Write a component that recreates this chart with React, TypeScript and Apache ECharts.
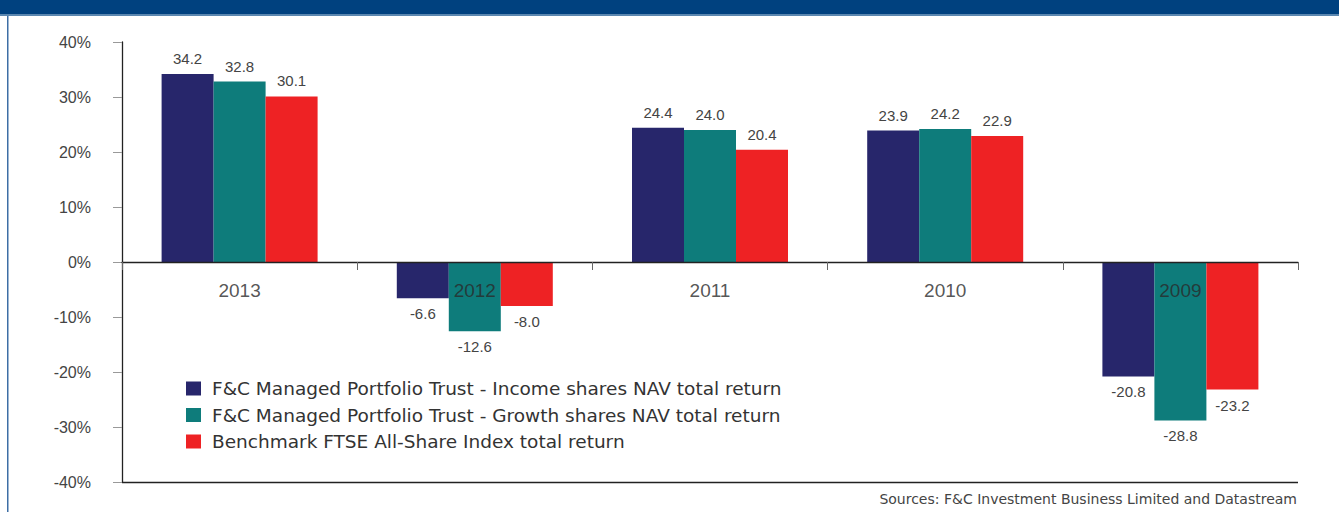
import React, { useEffect, useRef } from "react";
import * as echarts from "echarts";

const categories = ["2013", "2012", "2011", "2010", "2009"];
const incomeNav = [34.2, -6.6, 24.4, 23.9, -20.8];
const growthNav = [32.8, -12.6, 24.0, 24.2, -28.8];
const benchmark = [30.1, -8.0, 20.4, 22.9, -23.2];
const seriesNames = [
  "F&C Managed Portfolio Trust - Income shares NAV total return",
  "F&C Managed Portfolio Trust - Growth shares NAV total return",
  "Benchmark FTSE All-Share Index total return",
];
const seriesColors = ["#27266B", "#0E7C7B", "#EE2224"];
const yTicks = { min: -40, max: 40, interval: 10 };
const sourceText = "Sources: F&C Investment Business Limited and Datastream";

const FONT = "'Liberation Sans', Arial, Helvetica, sans-serif";
const WIDE = "'DejaVu Sans', 'Liberation Sans', sans-serif";

function toData(values: number[]) {
  return values.map((v) => ({
    value: v,
    label: { position: v < 0 ? "bottom" : "top" },
  }));
}

export default function App() {
  const ref = useRef<HTMLDivElement>(null);
  useEffect(() => {
    if (!ref.current) return;
    const chart = echarts.init(ref.current, undefined, { renderer: "svg" });
    const allValues = [incomeNav, growthNav, benchmark];
    const barSeries = allValues.map((vals, i) => ({
      name: seriesNames[i],
      type: "bar",
      barWidth: 52,
      barGap: "0%",
      itemStyle: { color: seriesColors[i] },
      label: {
        show: true,
        distance: 8,
        fontSize: 15,
        color: "#444444",
        fontFamily: FONT,
        formatter: (p: any) => Number(p.value).toFixed(1),
      },
      data: toData(vals),
      ...(i === 0
        ? {
            markLine: {
              silent: true,
              symbol: "none",
              label: { show: false },
              lineStyle: { color: "#222222", width: 1.3, type: "solid" },
              data: [{ yAxis: yTicks.min }],
            },
          }
        : {}),
    }));
    const categoryLabelSeries = {
      name: "categoryLabels",
      type: "scatter",
      z: 5,
      symbolSize: 0,
      silent: true,
      label: {
        show: true,
        position: "bottom",
        distance: 19,
        fontSize: 19,
        color: "#2a2a2a",
        fontFamily: FONT,
        formatter: (p: any) => p.name,
      },
      data: categories.map(() => 0),
    };
    chart.setOption({
      animation: false,
      backgroundColor: "#ffffff",
      textStyle: { fontFamily: FONT },
      grid: {
        left: 122,
        right: 41,
        top: 42,
        bottom: 30,
        containLabel: false,
        outerBoundsMode: "none",
      },
      legend: {
        orient: "vertical",
        left: 186,
        top: 379,
        padding: 0,
        itemWidth: 15,
        itemHeight: 14,
        itemGap: 7.5,
        icon: "rect",
        textStyle: {
          fontFamily: WIDE,
          fontSize: 18.5,
          lineHeight: 18,
          color: "#333333",
          padding: [0, 0, 0, 6],
        },
        data: seriesNames,
      },
      xAxis: {
        type: "category",
        data: categories,
        z: 5,
        axisLine: { onZero: true, lineStyle: { color: "#222222", width: 1.3 } },
        axisTick: { show: true, length: 8, lineStyle: { color: "#666666" } },
        axisLabel: { show: false },
        splitLine: { show: false },
      },
      yAxis: {
        type: "value",
        min: yTicks.min,
        max: yTicks.max,
        interval: yTicks.interval,
        axisLine: { show: true, onZero: false, lineStyle: { color: "#222222", width: 1.3 } },
        axisTick: { show: true, length: 9, lineStyle: { color: "#999999" } },
        axisLabel: {
          formatter: "{value}%",
          margin: 31,
          fontSize: 16,
          color: "#444444",
          fontFamily: FONT,
        },
        splitLine: { show: false },
      },
      series: [...barSeries, categoryLabelSeries],
      graphic: [
        {
          type: "rect",
          left: 0,
          top: 0,
          shape: { width: 1339, height: 14 },
          style: { fill: "#00417F" },
          silent: true,
        },
        {
          type: "rect",
          left: 0,
          top: 14,
          shape: { width: 1339, height: 2 },
          style: { fill: "#5B87B0" },
          silent: true,
        },
        {
          type: "rect",
          left: 7,
          top: 16,
          shape: { width: 1.5, height: 496 },
          style: { fill: "#3D6EA5" },
          silent: true,
        },
        {
          type: "text",
          right: 42,
          top: 492,
          style: {
            text: sourceText,
            fontSize: 14,
            fill: "#444444",
            fontFamily: WIDE,
          },
          silent: true,
        },
      ],
    });
    return () => chart.dispose();
  }, []);
  return (
    <div
      ref={ref}
      style={{ position: "fixed", left: 0, top: 0, width: 1339, height: 512 }}
    />
  );
}
